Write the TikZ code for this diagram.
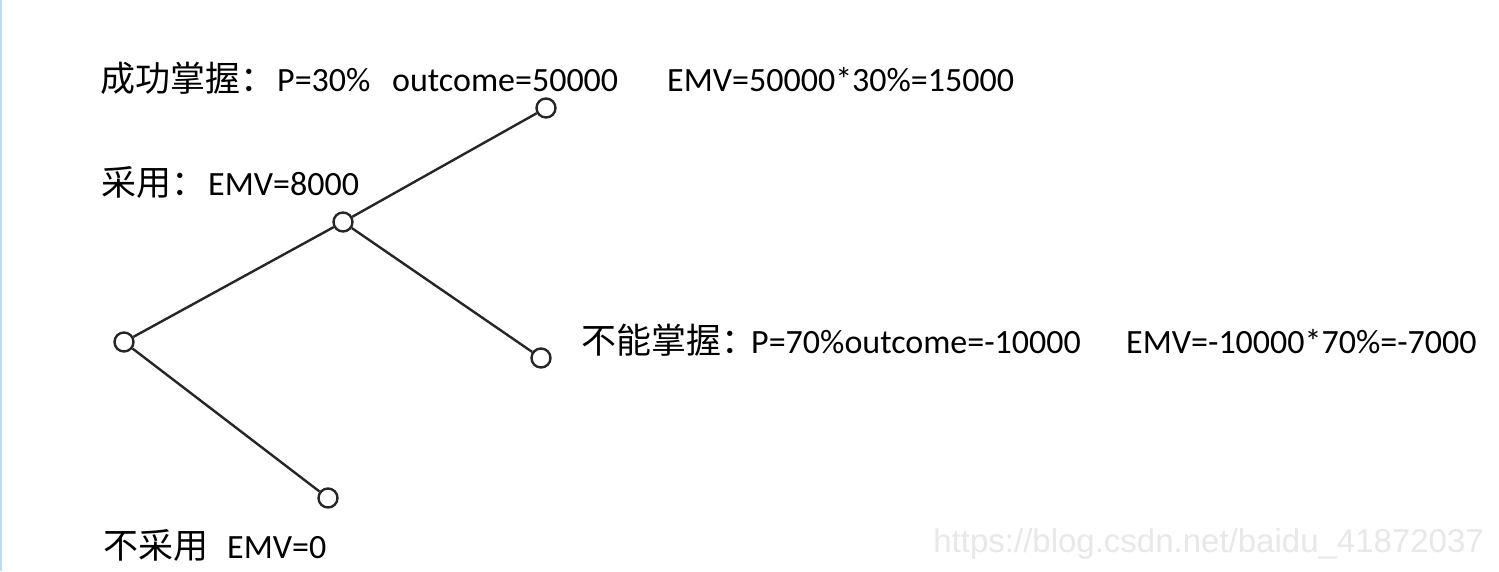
\documentclass[tikz,border=0pt]{standalone}
\usepackage{fontspec}
\setmainfont{Carlito}
\newfontfamily\cjk{Noto Sans CJK SC}
\newfontfamily\wmfont{Liberation Sans}
\newcommand{\seg}[2]{\makebox[#1pt][l]{#2}}
\begin{document}
\begin{tikzpicture}[x=1pt,y=-1pt,
  dnode/.style={circle,draw=black!85,line width=2.4pt,fill=white,minimum size=19pt,inner sep=0pt},
  conn/.style={draw=black!85,line width=2.4pt},
  lbl/.style={anchor=base west,inner sep=0pt,font=\fontsize{34}{36}\selectfont}]
\useasboundingbox (0,0) rectangle (1499,571);
\fill[white] (0,0) rectangle (1499,571);
\draw[color={rgb,255:red,190;green,220;blue,242},line width=2pt] (1,0) -- (1,571);
% nodes
\node[dnode] (root) at (124,342) {};
\node[dnode] (adopt) at (343,222) {};
\node[dnode] (succ) at (546,108) {};
\node[dnode] (fail) at (541,358) {};
\node[dnode] (nope) at (328,498) {};
% connectors
\draw[conn] (root) -- (adopt);
\draw[conn] (adopt) -- (succ);
\draw[conn] (adopt) -- (fail);
\draw[conn] (root) -- (nope);
% labels
\node[lbl] (t1) at (100,91) {\seg{177}{\cjk\fontsize{35}{36}\selectfont 成功掌握：}\seg{115}{P=30\%}\seg{275}{outcome=50000}EMV=50000*30\%=15000};
\node[lbl] (t2) at (101,195) {\seg{107}{\cjk\fontsize{35}{36}\selectfont 采用：}EMV=8000};
\node[lbl] (t3) at (581,353) {\seg{170}{\cjk\fontsize{35}{36}\selectfont 不能掌握：}\seg{375}{P=70\%outcome=-10000}EMV=-10000*70\%=-7000};
\node[lbl] (t4) at (103,558) {\seg{124}{\cjk\fontsize{35}{36}\selectfont 不采用}EMV=0};
\node[anchor=base east,inner sep=0pt,font=\wmfont\fontsize{33}{36}\selectfont,text={rgb,255:red,232;green,232;blue,232}] (wm) at (1484,552) {https://blog.csdn.net/baidu\_41872037};
\end{tikzpicture}
\end{document}
